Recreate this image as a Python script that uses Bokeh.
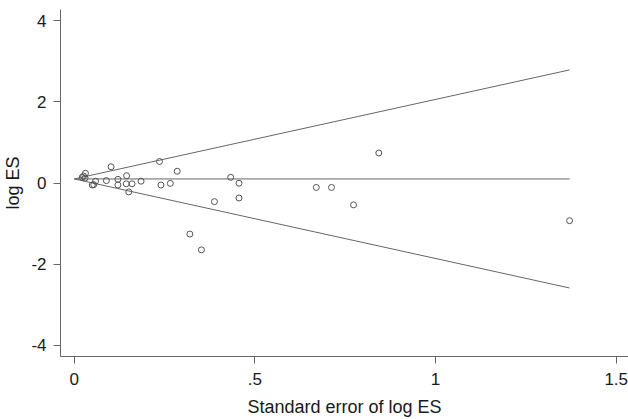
from bokeh.plotting import figure
from bokeh.models import Range1d, FixedTicker
from bokeh.embed import file_html
from bokeh.resources import INLINE

# Study-level data: standard error of log ES and log ES
se = [0.022, 0.026, 0.030, 0.031, 0.050, 0.054, 0.059, 0.089, 0.102, 0.121,
      0.121, 0.145, 0.144, 0.160, 0.151, 0.185, 0.236, 0.240, 0.266, 0.285,
      0.320, 0.352, 0.388, 0.433, 0.456, 0.456, 0.670, 0.712, 0.773, 0.843, 1.371]
log_es = [0.14, 0.17, 0.12, 0.24, -0.05, -0.04, 0.045, 0.06, 0.40, 0.09,
          -0.05, 0.18, -0.02, -0.02, -0.22, 0.045, 0.53, -0.05, -0.01, 0.29,
          -1.26, -1.65, -0.46, 0.14, -0.005, -0.37, -0.11, -0.11, -0.54, 0.74, -0.93]

# Funnel (pseudo 95% limits) and pooled estimate line
funnel_se = [0.0, 1.371]
funnel_upper = [0.10, 2.79]
funnel_lower = [0.10, -2.59]
pooled = [0.10, 0.10]

x_ticks = [0, 0.5, 1, 1.5]
x_tick_labels = {0: "0", 0.5: ".5", 1: "1", 1.5: "1.5"}
y_ticks = [-4, -2, 0, 2, 4]
y_tick_labels = {-4: "-4", -2: "-2", 0: "0", 2: "2", 4: "4"}

FONT = "Liberation Sans"
GREY = "#666666"

p = figure(width=628, height=419, output_backend="svg", toolbar_location=None,
           x_range=Range1d(-0.038, 1.534), y_range=Range1d(-4.28, 4.28),
           min_border_left=0, min_border_right=0, min_border_top=9, min_border_bottom=0)
p.outline_line_color = None
p.xgrid.visible = False
p.ygrid.visible = False
p.background_fill_color = "white"
p.border_fill_color = "white"

p.line(funnel_se, funnel_upper, line_color=GREY, line_width=1)
p.line(funnel_se, funnel_lower, line_color=GREY, line_width=1)
p.line(funnel_se, pooled, line_color=GREY, line_width=1)

p.scatter(se, log_es, marker="circle", size=6, fill_color=None,
          line_color="#555555", line_width=1)

for ax in (p.xaxis[0], p.yaxis[0]):
    ax.axis_line_color = GREY
    ax.major_tick_line_color = GREY
    ax.minor_tick_line_color = None
    ax.major_tick_out = 7
    ax.major_tick_in = 0
    ax.major_label_text_font = FONT
    ax.major_label_text_font_size = "17px"
    ax.major_label_text_color = "#1a1a1a"
    ax.axis_label_text_font = FONT
    ax.axis_label_text_font_size = "18px"
    ax.axis_label_text_font_style = "normal"
    ax.axis_label_text_color = "#1a1a1a"

p.xaxis.ticker = FixedTicker(ticks=x_ticks)
p.xaxis.major_label_overrides = x_tick_labels
p.xaxis.axis_label = "Standard error of log ES"
p.xaxis.major_label_standoff = 9
p.xaxis.axis_label_standoff = 9

p.yaxis.ticker = FixedTicker(ticks=y_ticks)
p.yaxis.major_label_overrides = y_tick_labels
p.yaxis.axis_label = "log ES"
p.yaxis.major_label_standoff = 7
p.yaxis.axis_label_standoff = 5
p.yaxis.major_label_orientation = "horizontal"

open("out.html", "w").write(file_html(p, INLINE))
